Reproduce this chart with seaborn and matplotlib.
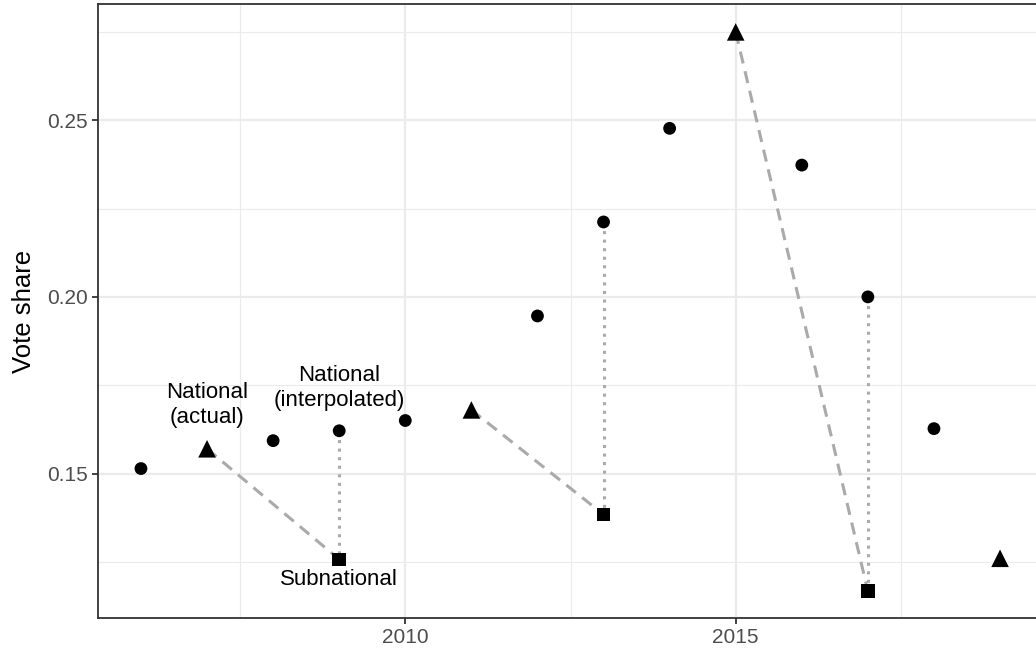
import pandas as pd
import matplotlib.pyplot as plt
import seaborn as sns
from matplotlib.ticker import FixedLocator, FormatStrFormatter

# national vote share, interpolated for years without a national election
interp_years = [2006, 2008, 2009, 2010, 2012, 2013, 2014, 2016, 2017, 2018]
interp_share = [0.1514, 0.1593, 0.1621, 0.1650, 0.1946, 0.2212, 0.2477, 0.2373, 0.2000, 0.1627]

# actual national elections
actual_years = [2007, 2011, 2015, 2019]
actual_share = [0.1570, 0.1680, 0.2750, 0.1260]

# subnational elections
sub_years = [2009, 2013, 2017]
sub_share = [0.1257, 0.1384, 0.1167]


def build_frame():
    rows = []
    for y, v in zip(interp_years, interp_share):
        rows.append((y, v, "interp"))
    for y, v in zip(actual_years, actual_share):
        rows.append((y, v, "actual"))
    for y, v in zip(sub_years, sub_share):
        rows.append((y, v, "sub"))
    return pd.DataFrame(rows, columns=["year", "share", "kind"])


def main():
    df = build_frame()
    sns.set_style("white")
    plt.rcParams["font.family"] = ["Liberation Sans", "DejaVu Sans"]

    fig = plt.figure(figsize=(10.36, 6.51), dpi=100)
    ax = fig.add_axes([98 / 1036, 1 - 618 / 651, (1043 - 98) / 1036, (618 - 4) / 651])

    # connecting segments: actual -> subnational (dashed), interpolated -> subnational (dotted)
    interp = dict(zip(interp_years, interp_share))
    for i, (sy, sv) in enumerate(zip(sub_years, sub_share)):
        ay, av = actual_years[i], actual_share[i]
        ax.plot([ay, sy], [av, sv], color="#aaaaaa", lw=2.2, ls=(0, (4, 2.6)), zorder=2)
        ax.plot([sy, sy], [interp[sy], sv], color="#aaaaaa", lw=2.2, ls=(0, (1, 1.8)), zorder=2)

    sizes = {"interp": 85, "actual": 160, "sub": 95}
    markers = {"interp": "o", "actual": "^", "sub": "s"}
    for kind in ["interp", "actual", "sub"]:
        sns.scatterplot(data=df[df.kind == kind], x="year", y="share", marker=markers[kind],
                        s=sizes[kind], color="black", edgecolor="none", ax=ax, zorder=3,
                        legend=False)

    ax.text(2007.0, 0.1695, "National\n(actual)", ha="center", va="center",
            fontsize=16, color="black", linespacing=1.25)
    ax.text(2009.0, 0.1742, "National\n(interpolated)", ha="center", va="center",
            fontsize=16, color="black", linespacing=1.25)
    ax.text(2009.0, 0.1201, "Subnational", ha="center", va="center",
            fontsize=16, color="black")

    ax.set_xlim(2005.35, 2019.65)
    ax.set_ylim(0.1091, 0.2829)
    ax.xaxis.set_major_locator(FixedLocator([2010, 2015]))
    ax.xaxis.set_minor_locator(FixedLocator([2007.5, 2012.5, 2017.5]))
    ax.yaxis.set_major_locator(FixedLocator([0.15, 0.20, 0.25]))
    ax.yaxis.set_minor_locator(FixedLocator([0.125, 0.175, 0.225, 0.275]))
    ax.yaxis.set_major_formatter(FormatStrFormatter("%.2f"))

    ax.grid(which="major", color="#ebebeb", lw=1.6)
    ax.grid(which="minor", color="#ebebeb", lw=0.8)
    ax.set_axisbelow(True)
    ax.tick_params(which="major", length=4.5, width=1.3, color="#333333",
                   labelsize=15, labelcolor="#4d4d4d", pad=3, left=True, bottom=True)
    ax.tick_params(which="minor", length=0)
    for sp in ax.spines.values():
        sp.set_color("#333333")
        sp.set_linewidth(1.3)

    ax.set_xlabel("")
    ax.set_ylabel("Vote share", fontsize=18.5, color="black", labelpad=8)

    fig.savefig("out.png", dpi=100)
    plt.close(fig)


if __name__ == "__main__":
    main()
